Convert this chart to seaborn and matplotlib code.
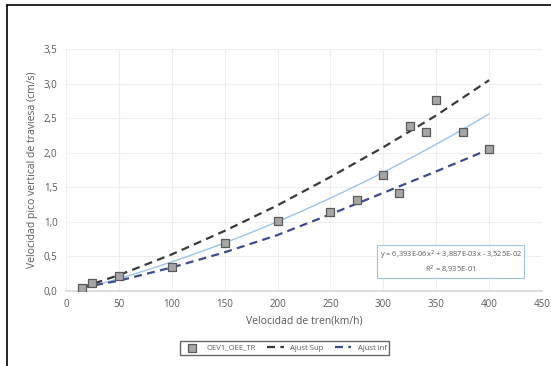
import numpy as np
import pandas as pd
import seaborn as sns
import matplotlib.pyplot as plt
from matplotlib.lines import Line2D

# datos medidos
vel_tren = [15, 25, 50, 100, 150, 200, 250, 275, 300, 315, 325, 340, 350, 375, 400]
vel_pico = [0.05, 0.11, 0.21, 0.35, 0.70, 1.01, 1.15, 1.31, 1.68, 1.42, 2.39, 2.30, 2.77, 2.30, 2.06]

# curvas de ajuste superior / inferior
x_ajuste = [15, 50, 100, 150, 200, 250, 300, 350, 400]
ajust_sup = [0.05, 0.23, 0.53, 0.87, 1.24, 1.65, 2.08, 2.54, 3.05]
ajust_inf = [0.05, 0.15, 0.34, 0.56, 0.81, 1.11, 1.42, 1.73, 2.05]

x_ticks = [0, 50, 100, 150, 200, 250, 300, 350, 400, 450]
y_ticks = [0.0, 0.5, 1.0, 1.5, 2.0, 2.5, 3.0, 3.5]

df = pd.DataFrame({'v': vel_tren, 'p': vel_pico})
df_aj = pd.DataFrame({'x': x_ajuste, 'sup': ajust_sup, 'inf': ajust_inf})

sns.set_theme(style="white")
plt.rcParams['font.family'] = ['Open Sans', 'DejaVu Sans']

fig = plt.figure(figsize=(5.51, 3.66), dpi=100)
ax = fig.add_axes([0.1198, 0.2049, 0.8639, 0.6611])

# ajuste polinomico (orden 2)
sns.regplot(x='v', y='p', data=df, order=2, ci=None, scatter=False, ax=ax,
            line_kws=dict(color='#9dc3e6', lw=1.0), label='_nolegend_')

sns.lineplot(x='x', y='sup', data=df_aj, ax=ax, color='#3a3a3a', lw=1.6,
             label='Ajust Sup')
sns.lineplot(x='x', y='inf', data=df_aj, ax=ax, color='#3f4c8a', lw=1.6,
             label='Ajust inf')
for ln in ax.lines[-2:]:
    ln.set_dashes([3.6, 2.4])

sns.scatterplot(x='v', y='p', data=df, ax=ax, marker='s', s=26,
                color='#a6a6a6', edgecolor='#5a5a5a', linewidth=0.9,
                label='OEV1_OEE_TR', zorder=5)

ax.set_xlim(0, 450)
ax.set_ylim(0, 3.5)
ax.set_xticks(x_ticks)
ax.set_yticks(y_ticks)
ax.set_yticklabels([f'{t:.1f}'.replace('.', ',') for t in y_ticks])
ax.tick_params(labelsize=7, colors='#595959', length=0, pad=6)
ax.grid(True, color='#eeeeee', lw=0.8)
for s in ['top', 'right', 'left']:
    ax.spines[s].set_visible(False)
ax.spines['bottom'].set_color('#d9d9d9')
ax.set_xlabel('Velocidad de tren(km/h)', fontsize=7.5, color='#595959', labelpad=4)
ax.set_ylabel('Velocidad pico vertical de traviesa (cm/s)', fontsize=7.5,
              color='#595959', labelpad=4)

# ecuacion de la linea de tendencia
ax.text(0.808, 0.12, 'y = 6,393E-06x$^2$ + 3,887E-03x - 3,525E-02\nR$^2$ = 8,935E-01',
        transform=ax.transAxes, fontsize=5.4, color='#595959', ha='center', va='center',
        multialignment='center',
        bbox=dict(boxstyle='square,pad=0.35', fc='white', ec='#9dc3e6', lw=0.8))

handles, labels = ax.get_legend_handles_labels()
order = [labels.index('OEV1_OEE_TR'), labels.index('Ajust Sup'), labels.index('Ajust inf')]
ax.get_legend().remove()
fig.legend([handles[i] for i in order], [labels[i] for i in order],
           loc='center', bbox_to_anchor=(0.517, 0.049), ncol=3, fontsize=5.5,
           frameon=True, fancybox=False, edgecolor='#404040', handlelength=2.2,
           columnspacing=1.5, borderpad=0.4, labelcolor='#595959')

# marco exterior
fig.add_artist(Line2D([7 / 551, 1.0], [1 - 5 / 366, 1 - 5 / 366], color='black', lw=1.2))
fig.add_artist(Line2D([7 / 551, 7 / 551], [0.0, 1 - 5 / 366], color='black', lw=1.2))

fig.savefig('out.png', dpi=100, facecolor='white')
